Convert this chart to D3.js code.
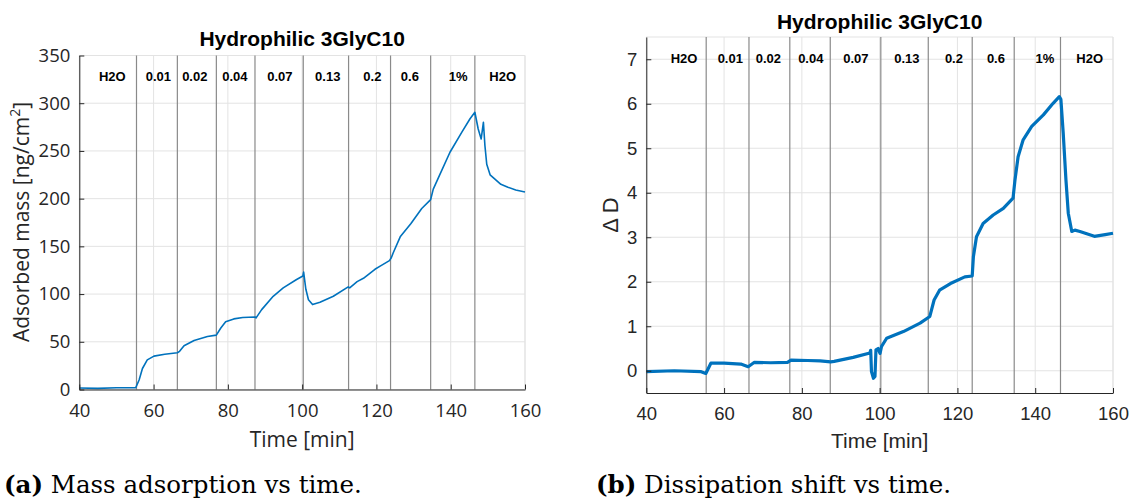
<!DOCTYPE html>
<html>
<head>
<meta charset="utf-8">
<script src="https://cdn.jsdelivr.net/npm/d3@7"></script>
<style>
  body { margin: 0; background: #fff; }
  svg { display: block; }
</style>
</head>
<body>
<svg width="1132" height="502"></svg>
<script>
// time axis (min) shared by both panels
const timeTicks = [40, 60, 80, 100, 120, 140, 160];
const massTicks = [0, 50, 100, 150, 200, 250, 300, 350];
const dissTicks = [0, 1, 2, 3, 4, 5, 6, 7];

// solution changes (vertical lines) and their labels
const boundaries = [55.4, 66.4, 76.9, 87.3, 100.3, 112.5, 123.8, 134.6, 146.5];
const phaseLabels = ["H2O", "0.01", "0.02", "0.04", "0.07", "0.13", "0.2", "0.6", "1%", "H2O"];
const labelTimesA = [48.9, 61.3, 71.1, 81.9, 94.0, 106.9, 118.9, 129.0, 142.0, 154.0];
const labelTimesB = [49.7, 61.6, 71.4, 82.3, 93.9, 107.0, 119.1, 129.9, 142.5, 154.0];

// (a) adsorbed mass, ng/cm2
const massTime = [40, 45, 50, 55.2, 56.1, 57, 58.3, 60.1, 63, 66.4, 67, 68.2, 70.9, 74.5, 76.9,
  78.1, 79.4, 81.6, 84, 87.3, 87.6, 89.1, 92.2, 94.9, 98.5, 100.2, 100.4, 101, 101.7, 102.8,
  104.8, 108.4, 112.4, 112.8, 114.8, 116.5, 119.6, 121, 123.5, 124, 124.5, 126.4, 129.3, 132.2,
  134.6, 135.3, 136.7, 139.8, 143, 145.2, 146.5, 147.4, 148.2, 148.8, 149.2, 149.7, 150.6,
  151.9, 153.5, 155.4, 157.5, 160];
const mass = [1.5, 1.2, 1.8, 2, 10, 22, 31, 35, 37, 38.5, 40, 45.8, 51.4, 55.6, 57,
  64.4, 71, 74, 75.5, 76, 75, 83.7, 97.7, 106.5, 115.3, 119, 123, 105, 94, 89,
  91.4, 97.7, 107.5, 106.5, 113, 116.5, 126, 129.3, 135, 138, 143, 160, 174, 189.7,
  199, 210, 222, 248.6, 269.7, 283.7, 290.5, 273, 262.6, 280, 256, 236, 225,
  220.5, 215, 212, 209, 207];

// (b) dissipation shift
const dissTime = [40, 47.2, 54.1, 55.3, 56.6, 60, 64.3, 66.2, 67.8, 72, 76.3, 77.2, 81.5, 84.7,
  87.4, 88.3, 93.2, 97.5, 97.7, 97.9, 98.4, 98.8, 99.05, 99.6, 100.1, 100.5, 101.8, 106.1,
  110.4, 112.9, 114, 115.4, 118.2, 121.9, 123.8, 124.1, 124.9, 126.6, 129.2, 131.8, 134.3,
  134.8, 135.6, 136.9, 139.1, 142.1, 144.6, 146.2, 146.6, 147.2, 147.9, 148.5, 149.4, 150.2,
  151.5, 155.2, 158, 160];
const dissipation = [-0.02, 0.0, -0.02, -0.06, 0.17, 0.17, 0.15, 0.09, 0.19, 0.18, 0.19, 0.24, 0.23, 0.22,
  0.2, 0.21, 0.3, 0.4, 0.46, -0.02, -0.17, -0.13, 0.47, 0.5, 0.39, 0.55, 0.73, 0.88,
  1.07, 1.22, 1.59, 1.81, 1.96, 2.11, 2.13, 2.56, 3.01, 3.31, 3.5, 3.65, 3.88,
  4.29, 4.81, 5.19, 5.49, 5.75, 6.01, 6.16, 6.1, 5.34, 4.29, 3.54, 3.13, 3.16,
  3.13, 3.02, 3.06, 3.09];

const svg = d3.select("svg");
const ink = "#262626";
const blue = "#0072BD";

function panel(opt) {
  const x = d3.scaleLinear().domain([40, 160]).range(opt.xr);
  const y = d3.scaleLinear().domain(opt.ydom).range(opt.yr);
  const g = svg.append("g");

  // grid
  g.append("g").selectAll("line").data(timeTicks).join("line")
    .attr("x1", d => x(d)).attr("x2", d => x(d))
    .attr("y1", opt.yr[0]).attr("y2", opt.yr[1])
    .attr("stroke", "#e3e3e3").attr("stroke-width", 1);
  g.append("g").selectAll("line").data(opt.yticks).join("line")
    .attr("x1", opt.xr[0]).attr("x2", opt.xr[1])
    .attr("y1", d => y(d)).attr("y2", d => y(d))
    .attr("stroke", "#e3e3e3").attr("stroke-width", 1);
  g.append("line")
    .attr("x1", opt.xr[0]).attr("x2", opt.xr[1])
    .attr("y1", opt.yr[1]).attr("y2", opt.yr[1])
    .attr("stroke", "#e3e3e3");
  g.append("line")
    .attr("x1", opt.xr[1]).attr("x2", opt.xr[1])
    .attr("y1", opt.yr[0]).attr("y2", opt.yr[1])
    .attr("stroke", "#e3e3e3");

  // solution change markers
  g.append("g").selectAll("line").data(boundaries).join("line")
    .attr("x1", d => x(d)).attr("x2", d => x(d))
    .attr("y1", opt.yr[0]).attr("y2", opt.yr[1])
    .attr("stroke", "#8a8a8a").attr("stroke-width", 1.2);

  // data line
  const line = d3.line().x((d, i) => x(opt.t[i])).y(d => y(d));
  g.append("path")
    .attr("fill", "none")
    .attr("stroke", blue)
    .attr("stroke-width", opt.lw)
    .attr("stroke-linejoin", "round")
    .attr("d", line(opt.v));

  // axes
  const xa = g.append("g")
    .attr("transform", `translate(0,${opt.yr[0]})`)
    .call(d3.axisBottom(x).tickValues(timeTicks).tickSizeInner(-5).tickSizeOuter(0).tickPadding(opt.xpad));
  const ya = g.append("g")
    .attr("transform", `translate(${opt.xr[0]},0)`)
    .call(d3.axisLeft(y).tickValues(opt.yticks).tickSizeInner(-5).tickSizeOuter(0).tickPadding(9));
  [xa, ya].forEach(a => {
    a.select(".domain").attr("stroke", ink);
    a.selectAll(".tick line").attr("stroke", ink);
    a.selectAll(".tick text")
      .attr("fill", ink)
      .style("font-family", opt.font)
      .style("font-size", "18.5px");
  });

  // phase labels
  g.append("g").selectAll("text").data(phaseLabels).join("text")
    .attr("x", (d, i) => x(opt.labelTimes[i]))
    .attr("y", opt.labelY)
    .attr("text-anchor", "middle")
    .attr("dominant-baseline", "central")
    .style("font-family", "Liberation Sans, Arial, sans-serif")
    .style("font-weight", "bold")
    .style("font-size", "13px")
    .text(d => d);

  // title
  g.append("text")
    .attr("x", (opt.xr[0] + opt.xr[1]) / 2)
    .attr("y", opt.titleY)
    .attr("text-anchor", "middle")
    .style("font-family", "Liberation Sans, Arial, sans-serif")
    .style("font-weight", "bold")
    .style("font-size", "21px")
    .text("Hydrophilic 3GlyC10");

  // x label
  g.append("text")
    .attr("x", (opt.xr[0] + opt.xr[1]) / 2)
    .attr("y", opt.xlabY)
    .attr("text-anchor", "middle")
    .attr("fill", ink)
    .style("font-family", opt.font)
    .style("font-size", "21px")
    .text("Time [min]");

  // caption
  const cap = g.append("text")
    .attr("x", opt.capX)
    .attr("y", 493)
    .style("font-family", "DejaVu Serif, serif")
    .style("font-size", "24.5px");
  cap.append("tspan").style("font-weight", "bold").text(opt.capTag);
  cap.append("tspan").text(" " + opt.caption);

  return { g, x, y };
}

const a = panel({
  xr: [79.3, 525], ydom: [0, 350], yr: [389.5, 55.5], yticks: massTicks,
  t: massTime, v: mass, lw: 1.6, font: "Open Sans, sans-serif", xpad: 14,
  labelTimes: labelTimesA, labelY: 76, titleY: 46, xlabY: 447,
  capX: 4, capTag: "(a)", caption: "Mass adsorption vs time."
});

const ylabA = svg.append("text")
  .attr("transform", "translate(29,222) rotate(-90)")
  .attr("text-anchor", "middle")
  .attr("fill", ink)
  .style("font-family", "Open Sans, sans-serif")
  .style("font-size", "21px");
ylabA.append("tspan").text("Adsorbed mass [ng/cm");
ylabA.append("tspan").attr("baseline-shift", "super").style("font-size", "14px").text("2");
ylabA.append("tspan").text("]");

const b = panel({
  xr: [646.3, 1113], ydom: [-0.5, 7.5], yr: [393, 37], yticks: dissTicks,
  t: dissTime, v: dissipation, lw: 3.2, font: "Liberation Sans, Arial, sans-serif", xpad: 14,
  labelTimes: labelTimesB, labelY: 58, titleY: 29, xlabY: 448,
  capX: 596, capTag: "(b)", caption: "Dissipation shift vs time."
});

svg.append("text")
  .attr("transform", "translate(618,215) rotate(-90)")
  .attr("text-anchor", "middle")
  .attr("fill", ink)
  .style("font-family", "Liberation Sans, Arial, sans-serif")
  .style("font-size", "22px")
  .text("\u0394 D");
</script>
</body>
</html>
